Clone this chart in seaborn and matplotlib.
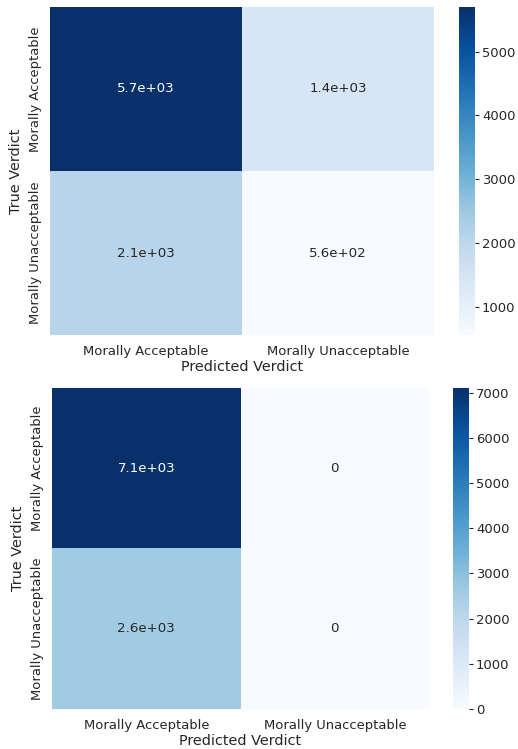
import numpy as np
import pandas as pd
import matplotlib
matplotlib.use("Agg")
import matplotlib.pyplot as plt
import seaborn as sns

# Confusion-matrix labels
labels = ["Morally Acceptable", "Morally Unacceptable"]

# Counts per (true, predicted) pair for the two classifiers
counts_first = [[5700, 1400],
                [2100, 560]]
counts_second = [[7100, 0],
                 [2600, 0]]

sns.set_theme(style="white", font_scale=0.86)

fig = plt.figure(figsize=(5.18, 7.49), dpi=100)

ax1 = fig.add_axes([0.0965, 0.5527, 0.741, 0.438])
cax1 = fig.add_axes([0.886, 0.5527, 0.031, 0.438])
ax2 = fig.add_axes([0.1004, 0.0534, 0.728, 0.4286])
cax2 = fig.add_axes([0.8745, 0.0534, 0.031, 0.4286])

for ax, cax, counts in [(ax1, cax1, counts_first), (ax2, cax2, counts_second)]:
    df = pd.DataFrame(counts, index=labels, columns=labels)
    sns.heatmap(df, annot=True, cmap="Blues", ax=ax, cbar_ax=cax,
                annot_kws={"size": 9.6})
    ax.set_xlabel("Predicted Verdict", labelpad=1.5)
    ax.set_ylabel("True Verdict", labelpad=4)
    ax.tick_params(axis="y", pad=0)
    ax.tick_params(axis="x", pad=1)
    cax.tick_params(length=3, width=0.8, pad=2)

fig.savefig("out.png", dpi=100)
